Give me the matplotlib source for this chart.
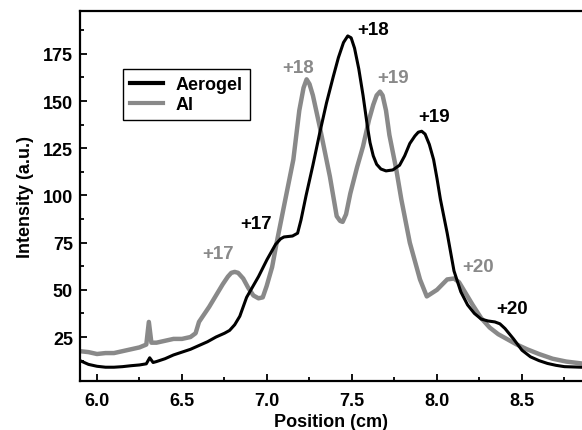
import matplotlib
matplotlib.use("Agg")
import matplotlib.pyplot as plt
from matplotlib.ticker import MultipleLocator

plt.rcParams['font.family'] = ['Liberation Sans', 'DejaVu Sans']
plt.rcParams['font.weight'] = 'bold'

# Aerogel (black)
aero_x = [5.90, 5.95, 6.00, 6.05, 6.10, 6.15, 6.20, 6.25, 6.29, 6.31, 6.33, 6.35,
          6.40, 6.45, 6.50, 6.55, 6.60, 6.65, 6.70, 6.75, 6.78, 6.81, 6.84, 6.88,
          6.95, 7.00, 7.05, 7.08, 7.10, 7.15, 7.18, 7.20, 7.23, 7.27, 7.31, 7.35,
          7.39, 7.42, 7.45, 7.475, 7.495, 7.515, 7.54, 7.565, 7.59, 7.606, 7.625, 7.645,
          7.67, 7.70, 7.74, 7.78, 7.81, 7.84, 7.87, 7.89, 7.91, 7.93, 7.955, 7.98,
          8.00, 8.02, 8.06, 8.10, 8.14, 8.18, 8.22, 8.26, 8.30, 8.34, 8.37, 8.40,
          8.45, 8.50, 8.55, 8.60, 8.65, 8.70, 8.75, 8.85]
aero_y = [12.5, 10.5, 9.5, 9.0, 9.0, 9.3, 9.8, 10.2, 10.8, 14.0, 11.5, 12.0,
          13.5, 15.5, 17.0, 18.5, 20.5, 22.5, 25.0, 27.0, 28.5, 31.5, 36.0, 46.0,
          57.0, 66.0, 74.0, 77.0, 78.0, 78.5, 80.0, 87.0, 100.0, 116.0, 133.0, 149.0,
          163.0, 173.0, 181.0, 184.5, 183.5, 178.0, 167.0, 153.0, 137.0, 128.0, 121.0, 116.5,
          114.0, 113.0, 113.5, 116.0, 121.0, 127.5, 131.5, 133.5, 134.0, 132.5, 127.0, 119.0,
          109.0, 98.0, 80.0, 60.0, 49.0, 42.0, 37.5, 34.5, 33.5, 33.0, 32.0, 29.5,
          24.0, 18.0, 14.5, 12.5, 11.0, 10.0, 9.3, 9.0]

# Al (gray)
al_x = [5.90, 5.95, 6.00, 6.05, 6.10, 6.15, 6.20, 6.25, 6.29, 6.305, 6.32, 6.35,
        6.40, 6.45, 6.50, 6.55, 6.58, 6.60, 6.63, 6.66, 6.70, 6.74, 6.77, 6.79,
        6.81, 6.83, 6.86, 6.89, 6.92, 6.95, 6.975, 6.998, 7.03, 7.057, 7.097, 7.155,
        7.19, 7.215, 7.233, 7.25, 7.27, 7.31, 7.37, 7.41, 7.43, 7.445, 7.465, 7.49,
        7.53, 7.565, 7.60, 7.625, 7.645, 7.665, 7.68, 7.70, 7.72, 7.76, 7.79, 7.84,
        7.90, 7.94, 8.00, 8.06, 8.10, 8.13, 8.17, 8.21, 8.26, 8.31, 8.36, 8.41,
        8.47, 8.53, 8.60, 8.68, 8.76, 8.85]
al_y = [17.5, 17.0, 16.0, 16.5, 16.5, 17.5, 18.5, 19.5, 21.0, 33.0, 22.0, 22.0,
        23.0, 24.0, 24.0, 25.0, 27.0, 33.0, 37.0, 41.0, 47.0, 53.0, 57.0, 59.0,
        59.5, 59.0, 56.0, 51.0, 47.0, 45.5, 46.0, 52.0, 62.0, 75.0, 93.0, 119.0,
        145.0, 157.0, 161.5, 159.0, 153.0, 136.5, 110.0, 89.0, 86.5, 86.0, 90.0, 101.0,
        115.0, 126.0, 140.0, 148.0, 153.0, 155.0, 153.0, 145.0, 132.0, 114.0, 98.0, 75.0,
        55.5, 46.5, 50.0, 55.5, 56.0, 54.0, 48.0, 42.0, 35.0, 30.0, 26.5, 24.0,
        21.0, 18.5, 16.0, 13.5, 12.0, 11.0]

# Charge-state labels
black_lbl = ["+17", "+18", "+19", "+20"]
black_lbl_x = [6.84, 7.53, 7.89, 8.35]
black_lbl_y = [85, 188, 142, 40]
gray_lbl = ["+17", "+18", "+19", "+20"]
gray_lbl_x = [6.62, 7.09, 7.65, 8.15]
gray_lbl_y = [69, 168, 162.5, 62.5]

BLACK = "#000000"
GRAY = "#898989"

fig = plt.figure(figsize=(5.82, 4.31), dpi=100)
ax = fig.add_axes([80/582, 1 - 382/431, 1 - 80/582, (382 - 12)/431])

ax.plot(aero_x, aero_y, color=BLACK, lw=2.2, label="Aerogel", zorder=3,
        solid_joinstyle='round')
ax.plot(al_x, al_y, color=GRAY, lw=3.2, label="Al", zorder=2,
        solid_joinstyle='round')

for t, x, y in zip(black_lbl, black_lbl_x, black_lbl_y):
    ax.text(x, y, t, color=BLACK, fontsize=13.5, fontweight='bold', ha='left', va='center')
for t, x, y in zip(gray_lbl, gray_lbl_x, gray_lbl_y):
    ax.text(x, y, t, color=GRAY, fontsize=13.5, fontweight='bold', ha='left', va='center')

ax.set_xlim(5.9, 8.853)
ax.set_ylim(1.7, 197.7)
ax.xaxis.set_minor_locator(MultipleLocator(0.25))
ax.yaxis.set_minor_locator(MultipleLocator(12.5))
ax.set_yticks([25, 50, 75, 100, 125, 150, 175])
ax.set_xticks([6.0, 6.5, 7.0, 7.5, 8.0, 8.5])
ax.set_xticklabels(["6.0", "6.5", "7.0", "7.5", "8.0", "8.5"])
ax.tick_params(which='major', direction='in', length=5, width=1.3, labelsize=13)
ax.tick_params(which='minor', direction='in', length=3, width=1.3)
ax.tick_params(axis='x', pad=8)
ax.tick_params(axis='y', pad=5)
for lbl in ax.get_xticklabels() + ax.get_yticklabels():
    lbl.set_fontweight('bold')

for s in ['left', 'bottom', 'top']:
    ax.spines[s].set_linewidth(1.6)
ax.spines['right'].set_visible(False)

ax.set_xlabel("Position (cm)", fontsize=13, fontweight='bold', labelpad=3)
ax.set_ylabel("Intensity (a.u.)", fontsize=13, fontweight='bold', labelpad=6)

leg = ax.legend(loc='upper left', bbox_to_anchor=(0.0857, 0.843), borderaxespad=0,
                frameon=True, fancybox=False, edgecolor='black', framealpha=1,
                handlelength=1.8, handletextpad=0.7, borderpad=0.4, labelspacing=0.15,
                prop={'weight': 'bold', 'size': 13})
leg.get_frame().set_linewidth(1.0)
for line in leg.get_lines():
    line.set_linewidth(3.0)

fig.savefig("out.png", dpi=100)
